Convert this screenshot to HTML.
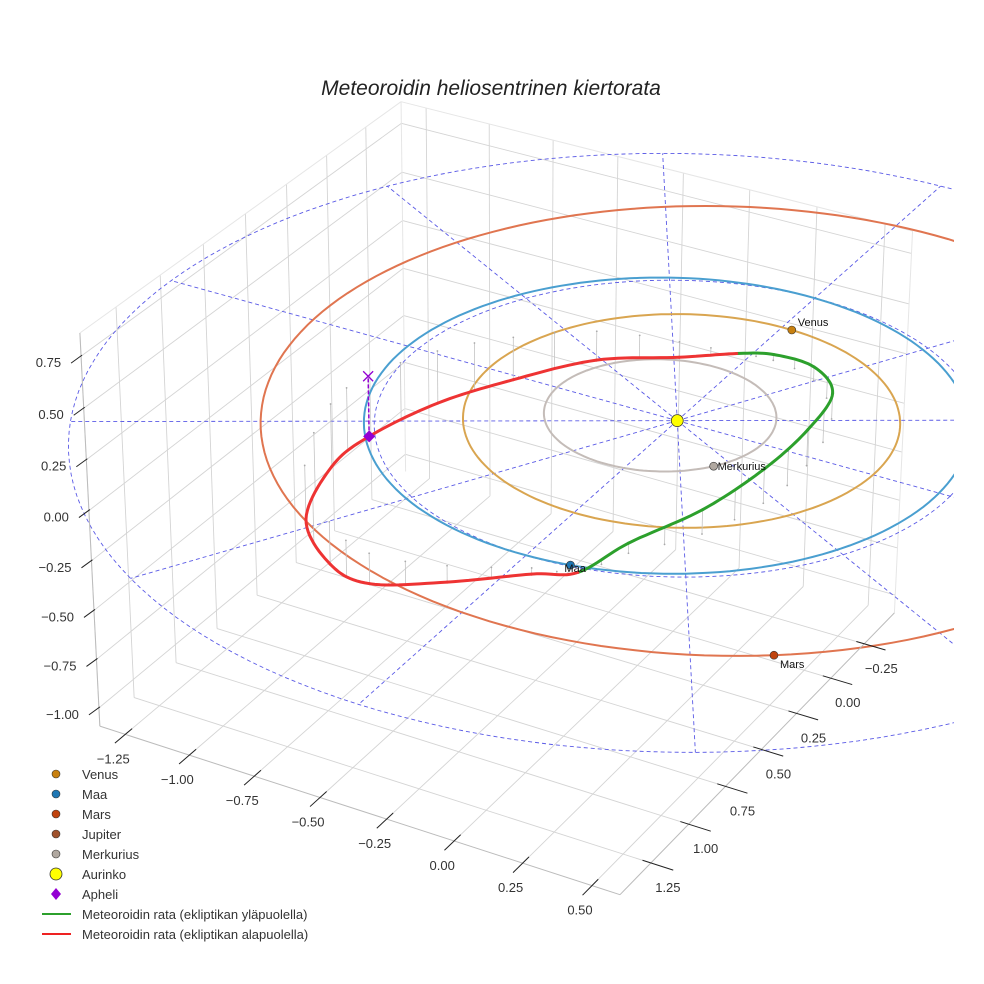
<!DOCTYPE html>
<html><head><meta charset="utf-8">
<style>
html,body{margin:0;padding:0;background:#fff;}
svg{display:block;font-family:"Liberation Sans",sans-serif;}
</style></head>
<body>
<svg id="chart" width="984" height="984" viewBox="0 0 984 984" xmlns="http://www.w3.org/2000/svg">
<defs><clipPath id="plotclip"><rect x="0" y="0" width="954" height="984"/></clipPath></defs>
<rect x="0" y="0" width="984" height="984" fill="#fff"/>
<text x="491" y="95" text-anchor="middle" font-size="21" font-style="italic" fill="#222">Meteoroidin heliosentrinen kiertorata</text>
<g id="grid"></g>
<g clip-path="url(#plotclip)">
<g id="ecl"></g>
<g id="orbits"></g>
<g id="met"></g>
<g id="marks"></g>
</g>
<g id="axes"></g>
<g id="legend">
  <circle cx="56" cy="774" r="4" fill="#c8800f" stroke="#333" stroke-width="0.6"/>
  <text x="82" y="779" font-size="13" fill="#333">Venus</text>
  <circle cx="56" cy="794" r="4" fill="#1f77b4" stroke="#333" stroke-width="0.6"/>
  <text x="82" y="799" font-size="13" fill="#333">Maa</text>
  <circle cx="56" cy="814" r="4" fill="#c0430e" stroke="#333" stroke-width="0.6"/>
  <text x="82" y="819" font-size="13" fill="#333">Mars</text>
  <circle cx="56" cy="834" r="4" fill="#a0522d" stroke="#333" stroke-width="0.6"/>
  <text x="82" y="839" font-size="13" fill="#333">Jupiter</text>
  <circle cx="56" cy="854" r="4" fill="#b0a8a0" stroke="#333" stroke-width="0.6"/>
  <text x="82" y="859" font-size="13" fill="#333">Merkurius</text>
  <circle cx="56" cy="874" r="6" fill="#ffff00" stroke="#333" stroke-width="0.8"/>
  <text x="82" y="879" font-size="13" fill="#333">Aurinko</text>
  <polygon points="56,888 61,894 56,900 51,894" fill="#9400d3"/>
  <text x="82" y="899" font-size="13" fill="#333">Apheli</text>
  <line x1="42" y1="914" x2="71" y2="914" stroke="#2ca02c" stroke-width="2"/>
  <text x="82" y="919" font-size="13" fill="#333">Meteoroidin rata (ekliptikan yläpuolella)</text>
  <line x1="42" y1="934" x2="71" y2="934" stroke="#ee2222" stroke-width="2"/>
  <text x="82" y="939" font-size="13" fill="#333">Meteoroidin rata (ekliptikan alapuolella)</text>
</g>
</svg>
<script>
// ---- axis data ----
const xTicks = [-1.25, -1, -0.75, -0.5, -0.25, 0, 0.25, 0.5];
const yTicks = [-0.25, 0, 0.25, 0.5, 0.75, 1, 1.25];
const zTicks = [-1, -0.75, -0.5, -0.25, 0, 0.25, 0.5, 0.75];
const xLim = [-1.35, 0.6];
const yLim = [-0.48, 1.45];
const zLim = [-1.095, 0.86];
// ---- planet data ----
const planetNames = ['Merkurius', 'Venus', 'Maa', 'Mars'];
const orbitA = [0.387, 0.723, 1.0, 1.524];
const orbitE = [0.206, 0.007, 0.017, 0.093];
const orbitCx = [-0.07, 0.0, -0.04, 0.1];
const orbitCy = [-0.01, -0.03, 0.0, -0.12];
const planetAngle = [35, -87, 79, 56];
// ---- ecliptic reference ----
const ringRadii = [1, 2];
const spokeAngles = [0, 30, 60, 90, 120, 150, 180, 210, 240, 270, 300, 330];
// ---- meteoroid keypoints ----
const metX = [0.193, 0.274, 0.419, 0.498, 0.508, 0.438, 0.266, 0.083, -0.047, -0.255, -0.536, -0.761, -0.935, -1.045, -1.053, -0.908, -0.647, -0.435, -0.183, 0.054];
const metY = [1.009, 0.828, 0.608, 0.339, 0.054, -0.264, -0.469, -0.528, -0.509, -0.486, -0.412, -0.232, -0.02, 0.248, 0.473, 0.863, 1.13, 1.233, 1.177, 1.057];
const metZ = [0, 0.05, 0.12, 0.17, 0.18, 0.13, 0.07, 0.03, 0, -0.08, -0.15, -0.22, -0.27, -0.31, -0.32, -0.27, -0.21, -0.15, -0.08, -0.03];
const aphel = [-1.045, 0.248, -0.31];

// ---- projection calibration (perspective DLT) ----
const NS = 'http://www.w3.org/2000/svg';
function calib() {
  const C = [
    [xLim[0], yLim[1], zLim[0], 100, 726],
    [xLim[0], yLim[1], zLim[1], 80, 333],
    [xLim[0], yLim[0], zLim[1], 400, 102],
    [xLim[1], yLim[0], zLim[1], 912, 231],
    [xLim[1], yLim[1], zLim[0], 619, 895],
    [xLim[1], yLim[0], zLim[0], 894, 613],
    [0, 0, 0, 680, 420]
  ];
  const rows = [], rhs = [];
  C.forEach(c => {
    const [X, Y, Z, u, v] = c;
    rows.push([X, Y, Z, 1, 0, 0, 0, 0, -u * X, -u * Y, -u * Z]); rhs.push(u);
    rows.push([0, 0, 0, 0, X, Y, Z, 1, -v * X, -v * Y, -v * Z]); rhs.push(v);
  });
  const n = 11, M = [], b = [];
  for (let i = 0; i < n; i++) {
    M.push(new Array(n).fill(0)); b.push(0);
    for (let k = 0; k < rows.length; k++) {
      for (let j = 0; j < n; j++) M[i][j] += rows[k][i] * rows[k][j];
      b[i] += rows[k][i] * rhs[k];
    }
  }
  for (let i = 0; i < n; i++) {
    let p = i;
    for (let r = i + 1; r < n; r++) if (Math.abs(M[r][i]) > Math.abs(M[p][i])) p = r;
    [M[i], M[p]] = [M[p], M[i]]; [b[i], b[p]] = [b[p], b[i]];
    for (let r = 0; r < n; r++) {
      if (r === i) continue;
      const f = M[r][i] / M[i][i];
      for (let j = i; j < n; j++) M[r][j] -= f * M[i][j];
      b[r] -= f * b[i];
    }
  }
  return b.map((v, i) => v / M[i][i]);
}
const Pm = calib();
function P(x, y, z) {
  const d = Pm[8] * x + Pm[9] * y + Pm[10] * z + 1;
  return [(Pm[0] * x + Pm[1] * y + Pm[2] * z + Pm[3]) / d, (Pm[4] * x + Pm[5] * y + Pm[6] * z + Pm[7]) / d];
}
function el(tag, attrs, parent) {
  const e = document.createElementNS(NS, tag);
  for (const k in attrs) e.setAttribute(k, attrs[k]);
  parent.appendChild(e);
  return e;
}
function line3(a, b, parent, style) {
  const p = P(...a), q = P(...b);
  return el('line', Object.assign({ x1: p[0], y1: p[1], x2: q[0], y2: q[1] }, style), parent);
}
function pathD(pts) { return pts.map((p, i) => (i ? 'L' : 'M') + p[0].toFixed(1) + ' ' + p[1].toFixed(1)).join(' '); }

// ---- box, panes, grid ----
const G = document.getElementById('grid');
const gs = { stroke: '#d4d4d4', 'stroke-width': 0.9 };
const edge = { stroke: '#e6e6e6', 'stroke-width': 1 };
xTicks.forEach(x => { const e = line3([x, yLim[0], zLim[0]], [x, yLim[1], zLim[0]], G, gs);   });
yTicks.forEach(y => { const e = line3([xLim[0], y, zLim[0]], [xLim[1], y, zLim[0]], G, gs);   });
yTicks.forEach(y => { const e = line3([xLim[0], y, zLim[0]], [xLim[0], y, zLim[1]], G, gs);   });
zTicks.forEach(z => { const e = line3([xLim[0], yLim[0], z], [xLim[0], yLim[1], z], G, gs);   });
xTicks.forEach(x => { const e = line3([x, yLim[0], zLim[0]], [x, yLim[0], zLim[1]], G, gs);   });
zTicks.forEach(z => { const e = line3([xLim[0], yLim[0], z], [xLim[1], yLim[0], z], G, gs);   });
[[[xLim[0], yLim[1], zLim[1]], [xLim[0], yLim[0], zLim[1]]], [[xLim[0], yLim[0], zLim[1]], [xLim[1], yLim[0], zLim[1]]],
 [[xLim[1], yLim[0], zLim[1]], [xLim[1], yLim[0], zLim[0]]], [[xLim[0], yLim[1], zLim[0]], [xLim[0], yLim[1], zLim[1]]],
 [[xLim[0], yLim[0], zLim[0]], [xLim[0], yLim[0], zLim[1]]]].forEach(s => {
  const e = line3(s[0], s[1], G, edge);
  
  
});

// ---- axes lines, ticks, labels ----
const AX = document.getElementById('axes');
const axs = { stroke: '#bbb', 'stroke-width': 1 };
const tks = { stroke: '#222', 'stroke-width': 1 };
function fmt(v) { return (v < 0 ? '\u2212' : '') + Math.abs(v).toFixed(2); }
let e;
e = line3([xLim[0], yLim[1], zLim[0]], [xLim[1], yLim[1], zLim[0]], AX, axs);
 
e = line3([xLim[1], yLim[1], zLim[0]], [xLim[1], yLim[0], zLim[0]], AX, axs);
 
e = line3([xLim[0], yLim[1], zLim[0]], [xLim[0], yLim[1], zLim[1]], AX, axs);
 
xTicks.forEach(x => {
  const t = line3([x, yLim[1] - 0.04, zLim[0]], [x, yLim[1] + 0.06, zLim[0]], AX, tks);
   
  const p = P(x, yLim[1], zLim[0]);
  const tx = el('text', { x: p[0] - 12, y: p[1] + 29, 'text-anchor': 'middle', 'font-size': 13, fill: '#333' }, AX);
  tx.textContent = fmt(x);
   
});
yTicks.forEach(y => {
  const t = line3([xLim[1] - 0.03, y, zLim[0]], [xLim[1] + 0.08, y, zLim[0]], AX, tks);
   
  const p = P(xLim[1], y, zLim[0]);
  const tx = el('text', { x: p[0] + 17, y: p[1] + 29, 'text-anchor': 'middle', 'font-size': 13, fill: '#333' }, AX);
  tx.textContent = fmt(y);
   
});
zTicks.forEach(z => {
  const p = P(xLim[0], yLim[1], z);
  const t = el('line', { x1: p[0] - 10, y1: p[1] + 7, x2: p[0] + 1, y2: p[1] - 1, stroke: '#222', 'stroke-width': 1 }, AX);
   
  const tx = el('text', { x: p[0] - 20, y: p[1] + 11, 'text-anchor': 'end', 'font-size': 13, fill: '#333' }, AX);
  tx.textContent = fmt(z);
   
});

// ---- ecliptic reference ----
const EC = document.getElementById('ecl');
const dash = { fill: 'none', stroke: '#5a5ae6', 'stroke-width': 0.9, 'stroke-dasharray': '4 3' };
ringRadii.forEach(r => {
  const pts = [];
  for (let t = 0; t <= 360; t += 2) pts.push(P(r * Math.cos(t * Math.PI / 180), r * Math.sin(t * Math.PI / 180), 0));
  const p = el('path', Object.assign({ d: pathD(pts) }, dash), EC);
   
});
spokeAngles.forEach(a => {
  const R = ringRadii[ringRadii.length - 1];
  const p = line3([0, 0, 0], [R * Math.cos(a * Math.PI / 180), R * Math.sin(a * Math.PI / 180), 0], EC, dash);
   
});

// ---- planet orbits ----
const OR = document.getElementById('orbits');
const orbitColors = ['#c4bcb8', '#d9a550', '#4a9fd0', '#e07550'];
const planetColors = ['#b0a8a0', '#c8800f', '#1f77b4', '#c0430e'];
function orbitPt(i, t) {
  const a = orbitA[i], b = a * Math.sqrt(1 - orbitE[i] * orbitE[i]);
  return [orbitCx[i] + a * Math.cos(t * Math.PI / 180), orbitCy[i] + b * Math.sin(t * Math.PI / 180), 0];
}
planetNames.forEach((n, i) => {
  const pts = [];
  for (let t = 0; t <= 360; t += 2) pts.push(P(...orbitPt(i, t)));
  const p = el('path', { d: pathD(pts), fill: 'none', stroke: orbitColors[i], 'stroke-width': 2 }, OR);
   
});

// ---- meteoroid ----
const MT = document.getElementById('met');
const N = metX.length;
const kp = metX.map((x, i) => [x, metY[i], metZ[i]]);
function cr(p0, p1, p2, p3, t) {
  const t2 = t * t, t3 = t2 * t;
  return [0, 1, 2].map(k => 0.5 * ((2 * p1[k]) + (-p0[k] + p2[k]) * t + (2 * p0[k] - 5 * p1[k] + 4 * p2[k] - p3[k]) * t2 + (-p0[k] + 3 * p1[k] - 3 * p2[k] + p3[k]) * t3));
}
function stem(q) {
  const s = line3(q, [q[0], q[1], 0], MT, { stroke: '#c4c4c4', 'stroke-width': 0.8 });
   
  const d = P(q[0], q[1], 0);
  const c = el('circle', { cx: d[0], cy: d[1], r: 0.9, fill: '#aaa' }, MT);
   
}
for (let i = 0; i < N; i++) {
  const p0 = kp[(i - 1 + N) % N], p1 = kp[i], p2 = kp[(i + 1) % N], p3 = kp[(i + 2) % N];
  stem(p1);
  stem(cr(p0, p1, p2, p3, 0.5));
}
for (let i = 0; i < N; i++) {
  const p0 = kp[(i - 1 + N) % N], p1 = kp[i], p2 = kp[(i + 1) % N], p3 = kp[(i + 2) % N];
  const pts = [];
  for (let s = 0; s <= 12; s++) pts.push(P(...cr(p0, p1, p2, p3, s / 12)));
  const above = p1[2] + p2[2] > 0;
  const seg = el('path', { d: pathD(pts), fill: 'none', stroke: above ? '#2ca02c' : '#ee3333', 'stroke-width': 3, 'stroke-linecap': 'round' }, MT);
  
  
}

// ---- markers ----
const MK = document.getElementById('marks');
const labelDx = [4, 6, -6, 6], labelDy = [4, -4, 7, 13];
planetNames.forEach((n, i) => {
  const q = P(...orbitPt(i, planetAngle[i]));
  const c = el('circle', { cx: q[0], cy: q[1], r: 4, fill: planetColors[i], stroke: '#333', 'stroke-width': 0.6 }, MK);
   
  const t = el('text', { x: q[0] + labelDx[i], y: q[1] + labelDy[i], 'font-size': 11, fill: '#111' }, MK);
  t.textContent = n;
   
});
const sp = P(0, 0, 0);
const sun = el('circle', { cx: sp[0], cy: sp[1], r: 6, fill: '#ffff00', stroke: '#333', 'stroke-width': 0.8 }, MK);
 
const ap = P(...aphel), ax0 = P(aphel[0], aphel[1], 0);
const al = el('line', { x1: ap[0], y1: ap[1], x2: ax0[0], y2: ax0[1], stroke: '#9400d3', 'stroke-width': 1.5, 'stroke-dasharray': '4 2' }, MK);
 
const xm = el('path', { d: `M${ax0[0] - 5} ${ax0[1] - 5} L${ax0[0] + 5} ${ax0[1] + 5} M${ax0[0] - 5} ${ax0[1] + 5} L${ax0[0] + 5} ${ax0[1] - 5}`, stroke: '#9400d3', 'stroke-width': 1.3 }, MK);
 
const dm = el('polygon', { points: `${ap[0]},${ap[1] - 6} ${ap[0] + 6},${ap[1]} ${ap[0]},${ap[1] + 6} ${ap[0] - 6},${ap[1]}`, fill: '#9400d3' }, MK);
 
</script>
</body></html>
